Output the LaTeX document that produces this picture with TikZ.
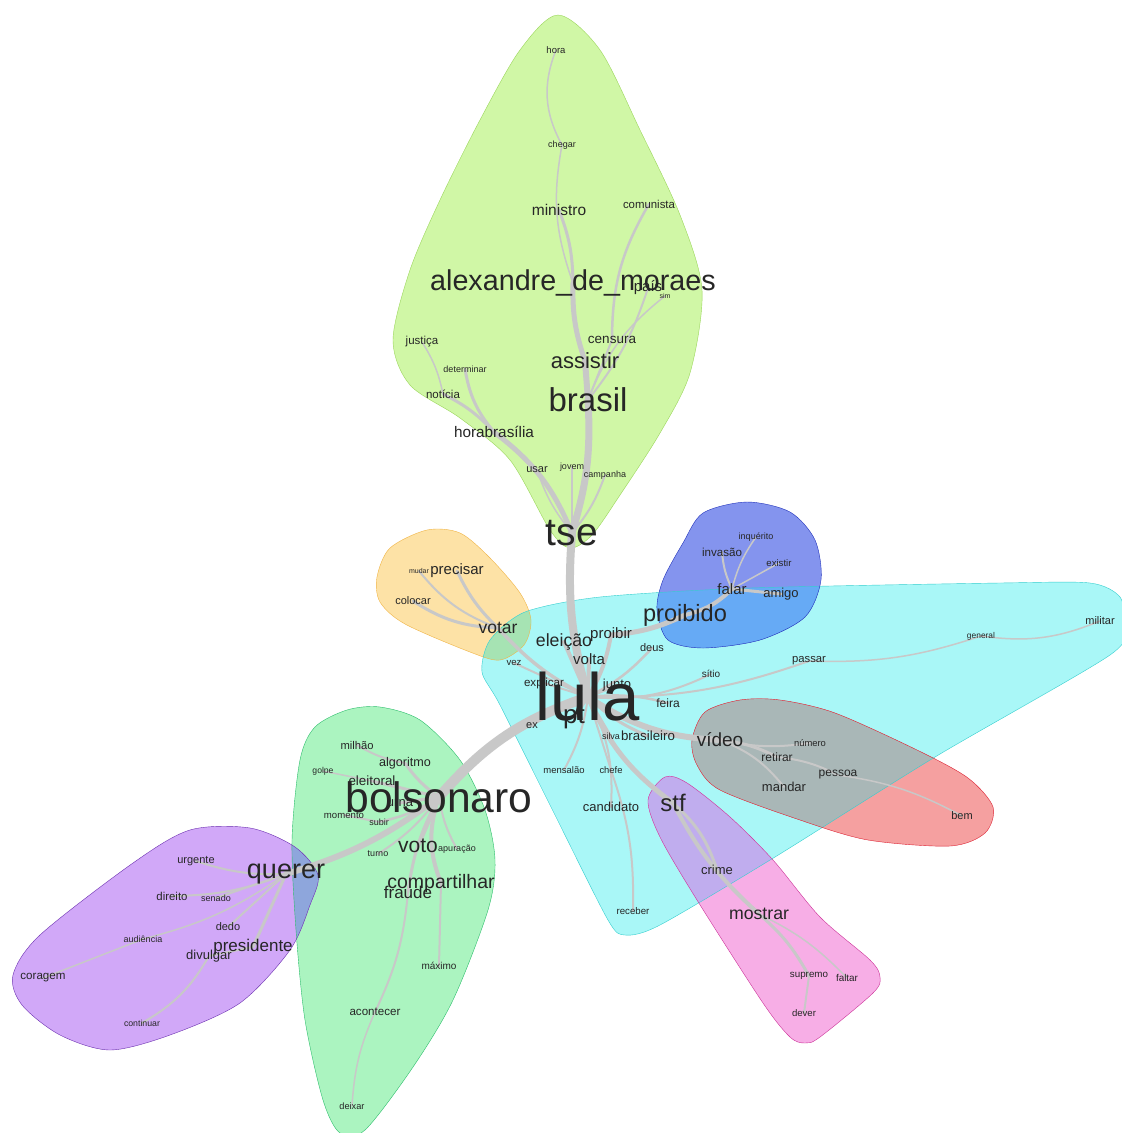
\documentclass[tikz,border=0pt]{standalone}
\usepackage{fontspec}
\setmainfont{Liberation Sans}
\usetikzlibrary{backgrounds}
\definecolor{hLime}{HTML}{D0F7A6}
\definecolor{hLimeB}{HTML}{9BD65B}
\definecolor{hOrange}{HTML}{FDE2A6}
\definecolor{hOrangeB}{HTML}{F0B445}
\definecolor{hOrangeC}{HTML}{A6E3B3}
\definecolor{hCyan}{HTML}{A9F7F7}
\definecolor{hCyanB}{HTML}{35CFCF}
\definecolor{hBlue}{HTML}{8494EE}
\definecolor{hBlueB}{HTML}{2233BB}
\definecolor{hBlueC}{HTML}{66AAF5}
\definecolor{hRed}{HTML}{F5A0A0}
\definecolor{hRedB}{HTML}{DD2233}
\definecolor{hRedC}{HTML}{A9B7B7}
\definecolor{hPink}{HTML}{F7AEE6}
\definecolor{hPinkB}{HTML}{CC3399}
\definecolor{hPinkC}{HTML}{C0ADEE}
\definecolor{hMint}{HTML}{ABF4C0}
\definecolor{hMintB}{HTML}{2DBE6C}
\definecolor{hPurple}{HTML}{D1A8F8}
\definecolor{hPurpleB}{HTML}{6B2FB0}
\definecolor{hPurpleC}{HTML}{8EA6DC}
\definecolor{edgeC}{HTML}{C8C8C8}
\tikzset{
  lbl/.style={font=\fontsize{#1}{#1}\selectfont,inner sep=0pt,text=black!85},
  lk/.style={draw=edgeC,line width=#1,line cap=round},
  hull/.style={smooth cycle,tension=.5},
}
\pgfdeclarelayer{hulls}
\pgfdeclarelayer{links}
\pgfsetlayers{hulls,links,main}
% cluster outlines
\newcommand{\hullLime}{plot[hull] coordinates{(558,15) (600,50) (640,130) (680,215) (702,290) (690,373) (660,433) (620,495) (592,535) (570,548) (550,530) (510,460) (460,418) (410,385) (393,340) (410,270) (440,200) (480,120) (520,50)}}
\newcommand{\hullOrange}{plot[hull] coordinates{(377,577) (390,548) (427,530) (460,533) (490,558) (520,593) (531,620) (524,645) (500,660) (470,652) (405,624) (380,602)}}
\newcommand{\hullCyan}{plot[smooth cycle,tension=.45] coordinates{(482,672) (490,640) (525,612) (600,597) (750,588) (1000,583) (1090,583) (1120,597) (1124,625) (1110,655) (935,757) (775,857) (660,925) (625,935) (608,920) (555,815) (500,705)}}
\newcommand{\hullBlue}{plot[hull] coordinates{(657,610) (663,580) (683,543) (703,513) (747,502) (790,512) (815,540) (821,580) (805,617) (760,640) (703,648) (668,640)}}
\newcommand{\hullRed}{plot[hull] coordinates{(692,740) (705,712) (740,700) (780,700) (835,713) (917,750) (968,778) (993,807) (985,833) (950,846) (868,840) (800,820) (720,790) (697,765)}}
\newcommand{\hullPink}{plot[hull] coordinates{(648,800) (665,777) (687,783) (730,817) (773,860) (820,917) (870,960) (880,977) (873,993) (820,1037) (805,1043) (790,1037) (763,1003) (697,900) (660,837)}}
\newcommand{\hullMint}{plot[hull] coordinates{(300,760) (315,727) (347,710) (380,707) (420,720) (460,760) (485,810) (495,860) (488,910) (453,1000) (413,1067) (365,1130) (340,1133) (323,1100) (305,1020) (296,930) (292,840)}}
\newcommand{\hullPurple}{plot[hull] coordinates{(13,975) (40,935) (133,863) (190,830) (250,828) (295,847) (318,875) (310,905) (290,950) (240,1003) (170,1035) (110,1050) (60,1035) (22,1005)}}

\begin{document}
\begin{tikzpicture}[x=1pt,y=-1pt]
  \useasboundingbox (0,0) rectangle (1122,1133);
  % words
  \node[lbl=67] (lula) at (588,697) {lula};
  \node[lbl=42.6] (bolsonaro) at (439,797) {bolsonaro};
  \node[lbl=39] (tse) at (572,533) {tse};
  \node[lbl=33] (brasil) at (588,400) {brasil};
  \node[lbl=28.7] (alexandre) at (573,283) {alexandre\_de\_moraes};
  \node[lbl=22] (assistir) at (585,361) {assistir};
  \node[lbl=15.5] (ministro) at (559,210) {ministro};
  \node[lbl=9.5] (hora) at (556,50) {hora};
  \node[lbl=9] (chegar) at (562,145) {chegar};
  \node[lbl=11.4] (comunista) at (649,204) {comunista};
  \node[lbl=15] (pais) at (648,288) {país};
  \node[lbl=7] (sim) at (665,296) {sim};
  \node[lbl=11.5] (justica) at (422,342) {justiça};
  \node[lbl=13.5] (censura) at (612,340) {censura};
  \node[lbl=9] (determinar) at (465,369) {determinar};
  \node[lbl=11.5] (noticia) at (443,394) {notícia};
  \node[lbl=15.3] (horabras) at (494,432) {horabrasília};
  \node[lbl=11] (usar) at (537,470) {usar};
  \node[lbl=9] (jovem) at (572,467) {jovem};
  \node[lbl=9] (campanha) at (605,475) {campanha};
  \node[lbl=9] (inquerito) at (756,537) {inquérito};
  \node[lbl=11.6] (invasao) at (722,552) {invasão};
  \node[lbl=9.6] (existir) at (779,563) {existir};
  \node[lbl=7] (mudar) at (419,571) {mudar};
  \node[lbl=15] (precisar) at (457,571) {precisar};
  \node[lbl=11] (colocar) at (413,601) {colocar};
  \node[lbl=15] (falar) at (732,589) {falar};
  \node[lbl=13] (amigo) at (781,594) {amigo};
  \node[lbl=23.6] (proibido) at (685,615) {proibido};
  \node[lbl=17.5] (votar) at (498,628) {votar};
  \node[lbl=11] (militar) at (1100,621) {militar};
  \node[lbl=8.4] (general) at (981,636) {general};
  \node[lbl=17.7] (eleicao) at (564,642) {eleição};
  \node[lbl=15] (proibir) at (611,635) {proibir};
  \node[lbl=11] (deus) at (652,648) {deus};
  \node[lbl=15] (volta) at (589,659) {volta};
  \node[lbl=11.3] (passar) at (809,661) {passar};
  \node[lbl=9.6] (vez) at (514,663) {vez};
  \node[lbl=10] (sitio) at (711,674) {sítio};
  \node[lbl=11.6] (explicar) at (544,683) {explicar};
  \node[lbl=13] (junto) at (617,685) {junto};
  \node[lbl=12] (feira) at (668,703) {feira};
  \node[lbl=11] (ex) at (532,726) {ex};
  \node[lbl=26] (pt) at (574,718) {pt};
  \node[lbl=9] (silva) at (611,736) {silva};
  \node[lbl=13.3] (brasileiro) at (648,736) {brasileiro};
  \node[lbl=19] (video) at (720,740) {vídeo};
  \node[lbl=9.4] (numero) at (810,743) {número};
  \node[lbl=12] (retirar) at (777,757) {retirar};
  \node[lbl=11.2] (milhao) at (357,745) {milhão};
  \node[lbl=12.6] (algoritmo) at (405,763) {algoritmo};
  \node[lbl=9.5] (mensalao) at (564,770) {mensalão};
  \node[lbl=9.4] (chefe) at (611,770) {chefe};
  \node[lbl=8.6] (golpe) at (323,771) {golpe};
  \node[lbl=12] (pessoa) at (838,775) {pessoa};
  \node[lbl=13.4] (eleitoral) at (372,781) {eleitoral};
  \node[lbl=13] (mandar) at (784,787) {mandar};
  \node[lbl=13] (urna) at (400,803) {urna};
  \node[lbl=13] (candidato) at (611,807) {candidato};
  \node[lbl=24] (stf) at (673,803) {stf};
  \node[lbl=11] (bem) at (962,816) {bem};
  \node[lbl=9.6] (momento) at (344,815) {momento};
  \node[lbl=9] (subir) at (379,822) {subir};
  \node[lbl=21] (voto) at (418,846) {voto};
  \node[lbl=9] (apuracao) at (457,849) {apuração};
  \node[lbl=9] (turno) at (378,854) {turno};
  \node[lbl=11] (urgente) at (196,861) {urgente};
  \node[lbl=27] (querer) at (286,874) {querer};
  \node[lbl=13] (crime) at (717,870) {crime};
  \node[lbl=19.5] (compartilhar) at (441,883) {compartilhar};
  \node[lbl=17] (fraude) at (408,892) {fraude};
  \node[lbl=11.4] (direito) at (172,896) {direito};
  \node[lbl=9] (senado) at (216,898) {senado};
  \node[lbl=17.7] (mostrar) at (759,914) {mostrar};
  \node[lbl=9.7] (receber) at (633,911) {receber};
  \node[lbl=11] (dedo) at (228,927) {dedo};
  \node[lbl=9] (audiencia) at (143,939) {audiência};
  \node[lbl=17] (presidente) at (253,947) {presidente};
  \node[lbl=13] (divulgar) at (209,956) {divulgar};
  \node[lbl=10] (maximo) at (439,966) {máximo};
  \node[lbl=9.8] (supremo) at (809,976) {supremo};
  \node[lbl=9.9] (faltar) at (847,978) {faltar};
  \node[lbl=11.6] (coragem) at (43,978) {coragem};
  \node[lbl=11.6] (acontecer) at (375,1012) {acontecer};
  \node[lbl=9.6] (dever) at (804,1013) {dever};
  \node[lbl=8.75] (continuar) at (142,1023) {continuar};
  \node[lbl=9.2] (deixar) at (352,1106) {deixar};
  % cluster outlines
  \begin{pgfonlayer}{hulls}
    \fill[white] (0,0) rectangle (1122,1133);
    \fill[hLime] \hullLime;
    \fill[hOrange] \hullOrange;
    \fill[hCyan] \hullCyan;
    \fill[hBlue] \hullBlue;
    \fill[hRed] \hullRed;
    \fill[hPink] \hullPink;
    \fill[hMint] \hullMint;
    \fill[hPurple] \hullPurple;
    \begin{scope}
      \clip \hullCyan;
      \fill[hOrangeC] \hullOrange;
      \fill[hBlueC] \hullBlue;
      \fill[hRedC] \hullRed;
      \fill[hPinkC] \hullPink;
    \end{scope}
    \begin{scope}
      \clip \hullMint;
      \fill[hPurpleC] \hullPurple;
    \end{scope}
    \draw[hLimeB] \hullLime;
    \draw[hOrangeB] \hullOrange;
    \draw[hCyanB] \hullCyan;
    \draw[hBlueB] \hullBlue;
    \draw[hRedB] \hullRed;
    \draw[hPinkB] \hullPink;
    \draw[hMintB] \hullMint;
    \draw[hPurpleB] \hullPurple;
  \end{pgfonlayer}
  % links
  \begin{pgfonlayer}{links}
    \foreach \a/\b/\w/\bd in {
      lula/tse/8/10, tse/brasil/7/-10, brasil/assistir/6/0,
      assistir/alexandre/5/10, ministro/alexandre/3/10,
      chegar/alexandre/1.5/-15, hora/chegar/1.5/-25,
      comunista/censura/2.5/-15, censura/brasil/2/0,
      pais/brasil/2/10, sim/brasil/1.5/-15,
      tse/horabras/5/-15, horabras/noticia/3/-10,
      horabras/determinar/3/15, noticia/justica/1.5/-10,
      tse/usar/1.5/10, tse/jovem/1.5/0, tse/campanha/2/-10,
      lula/votar/3.5/10, votar/precisar/3/10, votar/colocar/3/15,
      votar/mudar/2/15, lula/vez/2/0, lula/eleicao/4/0,
      lula/volta/4/0, lula/proibir/4/-10, proibir/proibido/5/-10,
      proibido/falar/4/-15, falar/amigo/3/0, falar/invasao/2/10,
      falar/inquerito/1.5/10, falar/existir/1.5/0,
      lula/deus/2.5/-10, lula/sitio/2/-15, lula/passar/2/-10,
      passar/general/1.5/-10, general/militar/1.5/-15,
      lula/junto/3/0, lula/feira/2.5/10, lula/video/6/-15,
      video/retirar/3/10, video/numero/2/-10, retirar/pessoa/2/10,
      video/mandar/2/15, pessoa/bem/1.5/10,
      lula/brasileiro/3/-10, lula/silva/2/0, lula/chefe/2/0,
      chefe/receber/2/10, lula/candidato/2/15,
      lula/stf/5/-15, stf/crime/3/15, stf/mostrar/4/-10,
      mostrar/supremo/3/10, supremo/dever/2/0, mostrar/faltar/1.5/10,
      lula/ex/3/-15, lula/pt/3/0, lula/explicar/2/0, lula/mensalao/2/10,
      lula/bolsonaro/10/-15, bolsonaro/querer/6/10,
      bolsonaro/voto/4/0, bolsonaro/compartilhar/4/-20,
      bolsonaro/fraude/3/-10, fraude/acontecer/2/10,
      acontecer/deixar/1.5/-10, compartilhar/maximo/2/0,
      bolsonaro/apuracao/2/-10, bolsonaro/turno/2/10,
      bolsonaro/subir/2.5/10, subir/momento/2/0, bolsonaro/urna/3/0,
      bolsonaro/eleitoral/3/0, eleitoral/golpe/1.5/0,
      bolsonaro/algoritmo/3/10, algoritmo/milhao/2/10,
      querer/urgente/2/10, querer/direito/2/10, querer/senado/2/0,
      querer/dedo/2/0, querer/presidente/3/0, presidente/divulgar/2/0,
      divulgar/continuar/2/15, querer/audiencia/1.5/10,
      audiencia/coragem/1.5/0}
      \draw[lk=\w pt] (\a.center) to[bend left=\bd] (\b.center);
  \end{pgfonlayer}
\end{tikzpicture}
\end{document}
